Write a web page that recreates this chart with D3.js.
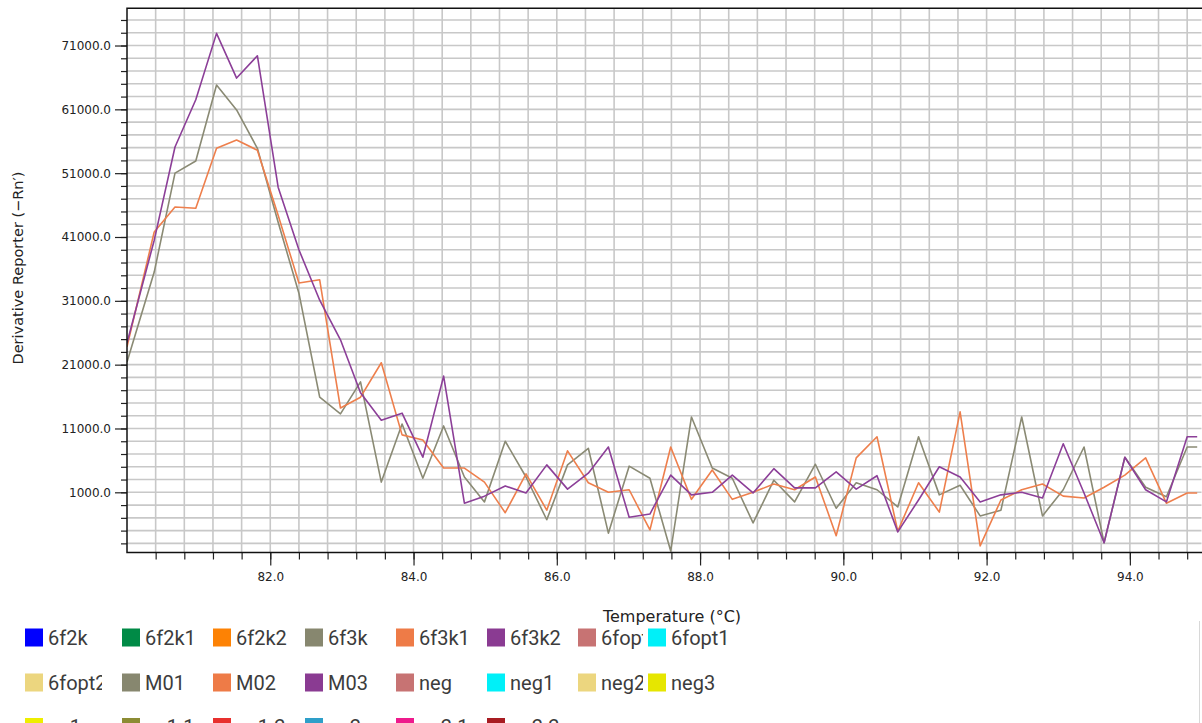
<!DOCTYPE html>
<html>
<head>
<meta charset="utf-8">
<script src="https://cdn.jsdelivr.net/npm/d3@7"></script>
<style>
body { margin: 0; background: #fff; }
svg { display: block; }
</style>
</head>
<body>
<div id="chart"></div>
<script>
// melt curve readings
const temps = [80.00, 80.38, 80.67, 80.96, 81.25, 81.53, 81.82, 82.11, 82.40, 82.69,
    82.98, 83.26, 83.55, 83.84, 84.13, 84.42, 84.71, 84.99, 85.28, 85.57,
    85.86, 86.15, 86.44, 86.72, 87.01, 87.30, 87.59, 87.88, 88.17, 88.45,
    88.74, 89.03, 89.32, 89.61, 89.90, 90.18, 90.47, 90.76, 91.05, 91.34,
    91.63, 91.91, 92.20, 92.49, 92.78, 93.07, 93.36, 93.64, 93.93, 94.22,
    94.51, 94.80, 94.94];

const valuesM01 = [21400, 35500, 51000, 52900, 64800, 60900, 54900, 43300, 32200, 15900,
    13300, 18300, 2600, 11700, 3200, 11400, 3400, -500, 9000, 3400,
    -3300, 5300, 7900, -5400, 5100, 3200, -8200, 12800, 4800, 3200,
    -3800, 2900, -500, 5400, -1500, 2500, 1400, -1300, 9700, 600,
    2100, -2700, -1800, 12800, -2700, 1400, 8100, -6900, 6500, 1800,
    300, 8100, 8100];

const valuesM02 = [23800, 41800, 45700, 45500, 54900, 56200, 54600, 44400, 33800, 34300,
    14200, 15900, 21300, 10000, 9200, 4800, 4800, 2600, -2200, 3900,
    -1800, 7500, 2500, 1000, 1400, -4900, 8100, -100, 4500, -100,
    1000, 2300, 1400, 3400, -5800, 6400, 9700, -5100, 2500, -2100,
    13600, -7400, -200, 1400, 2300, 400, 100, 1800, 3700, 6400,
    -700, 900, 900];

const valuesM03 = [24400, 40500, 55100, 62500, 72900, 65900, 69400, 48800, 39000, 31100,
    24900, 16600, 12300, 13400, 6500, 19200, -700, 400, 2000, 900,
    5300, 1500, 4000, 8100, -2900, -2400, 3700, 600, 1000, 3700,
    900, 4700, 1700, 1700, 4200, 1500, 3600, -5200, -200, 5000,
    3400, -500, 600, 1000, 100, 8600, 900, -6900, 6500, 1400,
    -500, 9700, 9700];

const lineNames = ["M01", "M02", "M03"];
const lineValues = [valuesM01, valuesM02, valuesM03];
const lineColors = ["#8a8a74", "#ee7f4c", "#8c3f98"];

const legendNames = ["6f2k", "6f2k1", "6f2k2", "6f3k", "6f3k1", "6f3k2", "6fopt", "6fopt1",
    "6fopt2", "M01", "M02", "M03", "neg", "neg1", "neg2", "neg3",
    "pc1", "pc1.1", "pc1.2", "pc2", "pc2.1", "pc2.2"];
const legendColors = ["#0000ff", "#008a46", "#fd8204", "#87876f", "#ee7b47", "#8a3b92", "#c77373", "#00f0f8",
    "#ecd67f", "#87876f", "#ee7b47", "#8a3b92", "#c77373", "#00f0f8", "#ecd67f", "#e6e600",
    "#eeee00", "#8c8c34", "#e8302e", "#2e9fc9", "#ee1a8c", "#a81c22"];

const xTickLabels = [82, 84, 86, 88, 90, 92, 94];
const yTickLabels = [1000, 11000, 21000, 31000, 41000, 51000, 61000, 71000];

const width = 1202, height = 723;
const plot = {left: 127, right: 1201.5, top: 8.3, bottom: 552.5};

const svg = d3.select("#chart").append("svg")
    .attr("width", width)
    .attr("height", height);

const x = d3.scaleLinear().domain([80, 95]).range([plot.left, plot.right]);
const y = d3.scaleLinear().domain([-8430, 76830]).range([plot.bottom, plot.top]);

const xMinor = d3.range(1, 38).map(i => 80 + i * 0.4);
const yMinor = d3.range(-7000, 76001, 2000);

// grid
const grid = svg.append("g").attr("class", "grid");
grid.selectAll("line.v")
    .data(xMinor)
    .enter().append("line")
    .attr("class", "v")
    .attr("x1", d => x(d)).attr("x2", d => x(d))
    .attr("y1", plot.top).attr("y2", plot.bottom)
    .attr("stroke", "#c8c8c8")
    .attr("stroke-width", 1.6);
grid.selectAll("line.h")
    .data(yMinor)
    .enter().append("line")
    .attr("class", "h")
    .attr("x1", plot.left).attr("x2", plot.right)
    .attr("y1", d => y(d)).attr("y2", d => y(d))
    .attr("stroke", "#c8c8c8")
    .attr("stroke-width", 1.6);

// axes
function styleAxis(g) {
    g.select(".domain").remove();
    g.selectAll(".tick line").attr("stroke", "#222").attr("stroke-width", 1.2);
    g.selectAll(".tick text")
        .attr("fill", "#222")
        .style("font-family", "'DejaVu Sans', sans-serif")
        .style("font-size", "12px");
}

svg.append("g")
    .attr("transform", `translate(0,${plot.bottom})`)
    .call(d3.axisBottom(x).tickValues(xMinor).tickSize(7).tickFormat(""))
    .call(styleAxis);
svg.append("g")
    .attr("transform", `translate(0,${plot.bottom})`)
    .call(d3.axisBottom(x).tickValues(xTickLabels).tickSize(13).tickPadding(7).tickFormat(d3.format(".1f")))
    .call(styleAxis);

svg.append("g")
    .attr("transform", `translate(${plot.left},0)`)
    .call(d3.axisLeft(y).tickValues(yMinor).tickSize(6).tickFormat(""))
    .call(styleAxis);
svg.append("g")
    .attr("transform", `translate(${plot.left},0)`)
    .call(d3.axisLeft(y).tickValues(yTickLabels).tickSize(12).tickPadding(4).tickFormat(d3.format(".1f")))
    .call(styleAxis);

// data lines
svg.append("clipPath").attr("id", "plotClip")
    .append("rect")
    .attr("x", plot.left).attr("y", plot.top)
    .attr("width", plot.right - plot.left).attr("height", plot.bottom - plot.top);

const line = d3.line()
    .x((d, i) => x(temps[i]))
    .y(d => y(d));

svg.append("g")
    .attr("clip-path", "url(#plotClip)")
    .selectAll("path")
    .data(lineValues)
    .enter().append("path")
    .attr("d", line)
    .attr("fill", "none")
    .attr("stroke", (d, i) => lineColors[i])
    .attr("stroke-width", 1.6)
    .attr("stroke-linejoin", "round");

// frame
svg.append("path")
    .attr("d", `M${plot.right + 2},${plot.top}H${plot.left}V${plot.bottom}H${plot.right + 2}`)
    .attr("fill", "none")
    .attr("stroke", "#111")
    .attr("stroke-width", 1.5);

// axis titles
svg.append("text")
    .attr("transform", "translate(23,268) rotate(-90)")
    .attr("text-anchor", "middle")
    .style("font-family", "'DejaVu Sans', sans-serif")
    .style("font-size", "14.5px")
    .attr("fill", "#222")
    .text("Derivative Reporter (\u2212Rn\u2032)");

svg.append("text")
    .attr("x", 672)
    .attr("y", 622)
    .attr("text-anchor", "middle")
    .style("font-family", "'DejaVu Sans', sans-serif")
    .style("font-size", "16px")
    .attr("fill", "#222")
    .text("Temperature (\u00b0C)");

// legend
const legendCols = [25, 122, 213, 305, 396, 487, 578, 648];
const legendClipRight = [102, 208, 300, 391, 482, 573, 643, 1195];
const legendRows = [637.5, 682.5, 727];
const swatch = 18;

const legend = svg.append("g").attr("class", "legend");
legendCols.forEach((cx, c) => {
    legend.append("clipPath").attr("id", "legClip" + c)
        .append("rect")
        .attr("x", cx).attr("y", 600)
        .attr("width", legendClipRight[c] - cx).attr("height", 140);
});

legendNames.forEach((name, i) => {
    const c = i % 8, r = Math.floor(i / 8);
    const item = legend.append("g").attr("clip-path", `url(#legClip${c})`);
    item.append("rect")
        .attr("x", legendCols[c])
        .attr("y", legendRows[r] - swatch / 2)
        .attr("width", swatch)
        .attr("height", swatch)
        .attr("fill", legendColors[i]);
    item.append("text")
        .attr("x", legendCols[c] + swatch + 5)
        .attr("y", legendRows[r])
        .attr("dy", "0.36em")
        .style("font-family", "Roboto, sans-serif")
        .style("font-size", "20px")
        .attr("fill", "#3c3c3c")
        .text(name);
});

svg.append("line")
    .attr("x1", 1199.5).attr("x2", 1199.5)
    .attr("y1", 621).attr("y2", height)
    .attr("stroke", "#d8d8d8")
    .attr("stroke-width", 1);
</script>
</body>
</html>
